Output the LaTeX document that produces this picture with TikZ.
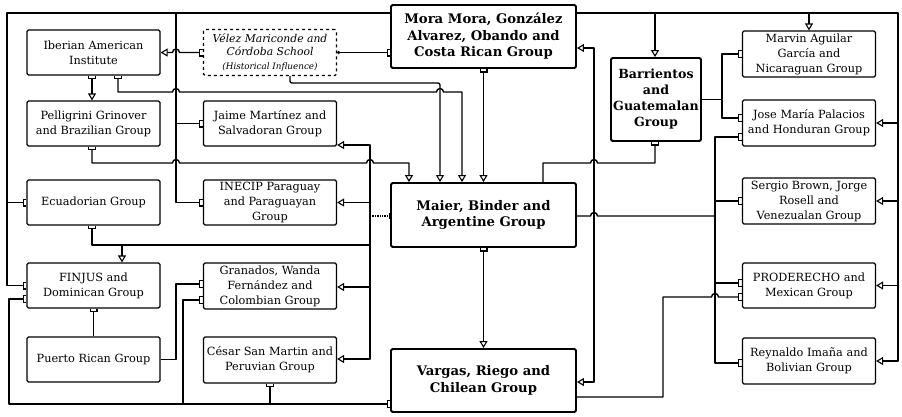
\documentclass[tikz,border=0pt]{standalone}
\usepackage{fontspec}
\setmainfont{DejaVu Serif}
\usetikzlibrary{arrows.meta}
\tikzset{
  box/.style={draw, line width=1.2pt, rounded corners=1.5pt, align=center, inner sep=0pt, fill=white,
    font=\fontsize{11.3}{15}\selectfont},
  sbox/.style={box, minimum width=133pt, minimum height=45pt},
  hub/.style={box, line width=1.9pt, font=\bfseries\fontsize{13.2}{16.5}\selectfont},
  conn/.style={line width=1.4pt, line join=round},
  otri/.tip={Triangle[open, length=7pt, width=8pt, line width=1.1pt]},
  fork/.tip={Bracket[reversed, width=8pt, length=3pt, line width=1.1pt]},
  hopR/.style 2 args={insert path={-- ({#1-3.5},#2) arc[start angle=180, end angle=360, radius=3.5]}},
  hopL/.style 2 args={insert path={-- ({#1+3.5},#2) arc[start angle=0, end angle=-180, radius=3.5]}},
}
\begin{document}
\begin{tikzpicture}[x=1pt, y=-1pt]
\fill[white] (0,0) rectangle (902,416);
\useasboundingbox (0,0) rectangle (902,416);

% left column
\node[sbox] (ib) at (93.5,52.5) {Iberian American\\Institute};
\node[sbox] (pg) at (93.5,123.5) {Pelligrini Grinover\\and Brazilian Group};
\node[sbox] (ec) at (93.5,202.5) {Ecuadorian Group};
\node[sbox] (fj) at (93.5,285.5) {FINJUS and\\Dominican Group};
\node[sbox] (pr) at (93.5,359.5) {Puerto Rican Group};
% second column
\node[sbox, dashed, minimum height=46pt, font=\itshape\fontsize{10.8}{13.5}\selectfont] (vz) at (270,52.5)
  {V\'elez Mariconde and\\C\'ordoba School\\{\fontsize{8.8}{11}\selectfont (Historical Influence)}};
\node[sbox] (jm) at (270,123.5) {Jaime Mart\'inez and\\Salvadoran Group};
\node[sbox] (inec) at (270,202.5) {INECIP Paraguay\\and Paraguayan\\Group};
\node[sbox, minimum height=46pt] (gr) at (270,286) {Granados, Wanda\\Fern\'andez and\\Colombian Group};
\node[sbox, minimum height=46pt] (cs) at (270,360) {C\'esar San Martin and\\Peruvian Group};
% centre
\node[hub, minimum width=185pt, minimum height=63pt] (mm) at (483.5,36.5) {Mora Mora, Gonz\'alez\\Alvarez, Obando and\\Costa Rican Group};
\node[hub, minimum width=185pt, minimum height=64pt] (mb) at (483.5,215) {Maier, Binder and\\Argentine Group};
\node[hub, minimum width=185pt, minimum height=63pt] (vr) at (483.5,380.5) {Vargas, Riego and\\Chilean Group};
\node[hub, minimum width=90pt, minimum height=83pt, font=\bfseries\fontsize{12.6}{16}\selectfont] (bg) at (656,99.5) {Barrientos\\and\\Guatemalan\\Group};
% right column
\node[sbox, minimum height=46pt] (ma) at (809,54) {Marvin Aguilar\\Garc\'ia and\\Nicaraguan Group};
\node[sbox, minimum height=46pt] (jp) at (809,123) {Jose Mar\'ia Palacios\\and Honduran Group};
\node[sbox, minimum height=46pt] (sb) at (809,201) {Sergio Brown, Jorge\\Rosell and\\Venezualan Group};
\node[sbox] (px) at (809,285.5) {PRODERECHO and\\Mexican Group};
\node[sbox, minimum height=46pt] (rb) at (809,361) {Reynaldo Ima\~na and\\Bolivian Group};

% junction coordinates
\coordinate (jL1) at (7,202.5);
\coordinate (jL2) at (176,13);
\coordinate (jL3) at (176,123.5);
\coordinate (jR1) at (655,13);
\coordinate (jR2) at (809,13);
\coordinate (jR3) at (898,123);
\coordinate (jR4) at (898,201);
\coordinate (jR5) at (898,285.5);
\coordinate (jE) at (122,245);
\coordinate (jB) at (370,216);
\coordinate (jB1) at (370,202.5);
\coordinate (jB2) at (370,287);
\coordinate (jG) at (183,404);
\coordinate (jC) at (270,404);
\coordinate (jM) at (715,216);
\coordinate (jM1) at (715,201);
\coordinate (jM2) at (715,283);
\coordinate (jG2) at (722,99.5);

% Mora Mora: left bus
\draw[conn,-fork] ([yshift=23.5pt]mm.west) -- (7,13) -- (7,285.5) -- (fj.west);
\draw[conn,-fork] (jL1) -- (ec.west);
\draw[conn,-fork] (jL2) -- (176,202.5) -- (inec.west);
\draw[conn,-fork] (jL3) -- (jm.west);
% Mora Mora: right bus
\draw[conn,-otri] ([yshift=23.5pt]mm.east) -- (898,13) -- (898,361) -- (rb.east);
\draw[conn,-otri] (jR1) -- ([xshift=-1pt]bg.north);
\draw[conn,-otri] (jR2) -- (ma.north);
\draw[conn,-otri] (jR3) -- (jp.east);
\draw[conn,-otri] (jR4) -- (sb.east);
\draw[conn,-otri] (jR5) -- (px.east);

% Velez
\draw[conn,fork-otri] (vz.west) [hopL={176}{52.5}] -- (ib.east);
\draw[conn,{Circle[length=3pt]}-fork] (vz.east) -- ([yshift=-16pt]mm.west);
\draw[conn,-otri,rounded corners=2pt] ([xshift=20pt]vz.south) -- (290,83) -- (440,83) -- ([xshift=-43.5pt]mb.north);

% Iberian
\draw[conn,fork-otri] ([xshift=-1.5pt]ib.south) -- ([xshift=-1.5pt]pg.north);
\draw[conn,fork-otri] ([xshift=24.5pt]ib.south) -- (118,92) [hopR={176}{92}] [hopR={440}{92}] -- (462,92) -- ([xshift=-21.5pt]mb.north);
% Pelligrini
\draw[conn,fork-otri] ([xshift=-1.5pt]pg.south) -- (92,163) [hopR={176}{163}] [hopR={370}{163}] -- (409,163) -- ([xshift=-74.5pt]mb.north);
% Ecuadorian
\draw[conn,fork-] ([xshift=-1.5pt]ec.south) -- (92,245) -- (370,245);
\draw[conn,-otri] (jE) -- ([xshift=28.5pt]fj.north);
% Maier left bus
\draw[conn,densely dotted,-{Bar[width=6pt]}] (jB) -- ([yshift=-1pt]mb.west);
\draw[conn,-otri] (jB) -- (370,145) -- ([yshift=-21.5pt]jm.east);
\draw[conn,-otri] (jB) -- (370,359) -- ([yshift=1pt]cs.east);
\draw[conn,-otri] (jB1) -- (inec.east);
\draw[conn,-otri] (jB2) -- ([yshift=-1pt]gr.east);
% Puerto Rico
\draw[conn,-fork] (pr.east) -- (176,359.5) -- (176,284) -- ([yshift=2pt]gr.west);
\draw[conn,-fork] (pr.north) -- (fj.south);
% bottom bus (Vargas)
\draw[conn,fork-fork] ([yshift=-23.5pt]vr.west) -- (9,404) -- (9,299) -- ([yshift=-13.5pt]fj.west);
\draw[conn,-fork] (jG) -- (183,300) -- ([yshift=-14pt]gr.west);
\draw[conn,-fork] (jC) -- (cs.south);
% centre verticals
\draw[conn,fork-otri] (mm.south) -- (mb.north);
\draw[conn,fork-otri] (mb.south) -- (vr.north);
\draw[conn,otri-otri] ([yshift=-11.5pt]mm.east) -- (594,48) -- (594,382) -- ([yshift=-1.5pt]vr.east);
% Maier right
\draw[conn,-fork] ([xshift=59.5pt]mb.north) -- (543,163) [hopR={594}{163}] -- (655,163) -- ([xshift=-1pt]bg.south);
\draw[conn] ([yshift=-1pt]mb.east) [hopR={594}{216}] -- (jM);
\draw[conn,-fork] (jM) -- (715,137) -- ([yshift=-14pt]jp.west);
\draw[conn,-fork] (jM) -- (715,363) -- ([yshift=-2pt]rb.west);
\draw[conn,-fork] (jM1) -- (sb.west);
\draw[conn,-fork] (jM2) -- ([yshift=2.5pt]px.west);
% Barrientos
\draw[conn,-fork] (bg.east) -- (jG2) -- (722,54) -- (ma.west);
\draw[conn,-fork] (jG2) -- (722,118) -- ([yshift=5pt]jp.west);
% Vargas to Mexico
\draw[conn,-fork] ([yshift=-16.5pt]vr.east) -- (663,397) -- (663,297) [hopR={715}{297}] -- ([yshift=-11.5pt]px.west);
\end{tikzpicture}
\end{document}
